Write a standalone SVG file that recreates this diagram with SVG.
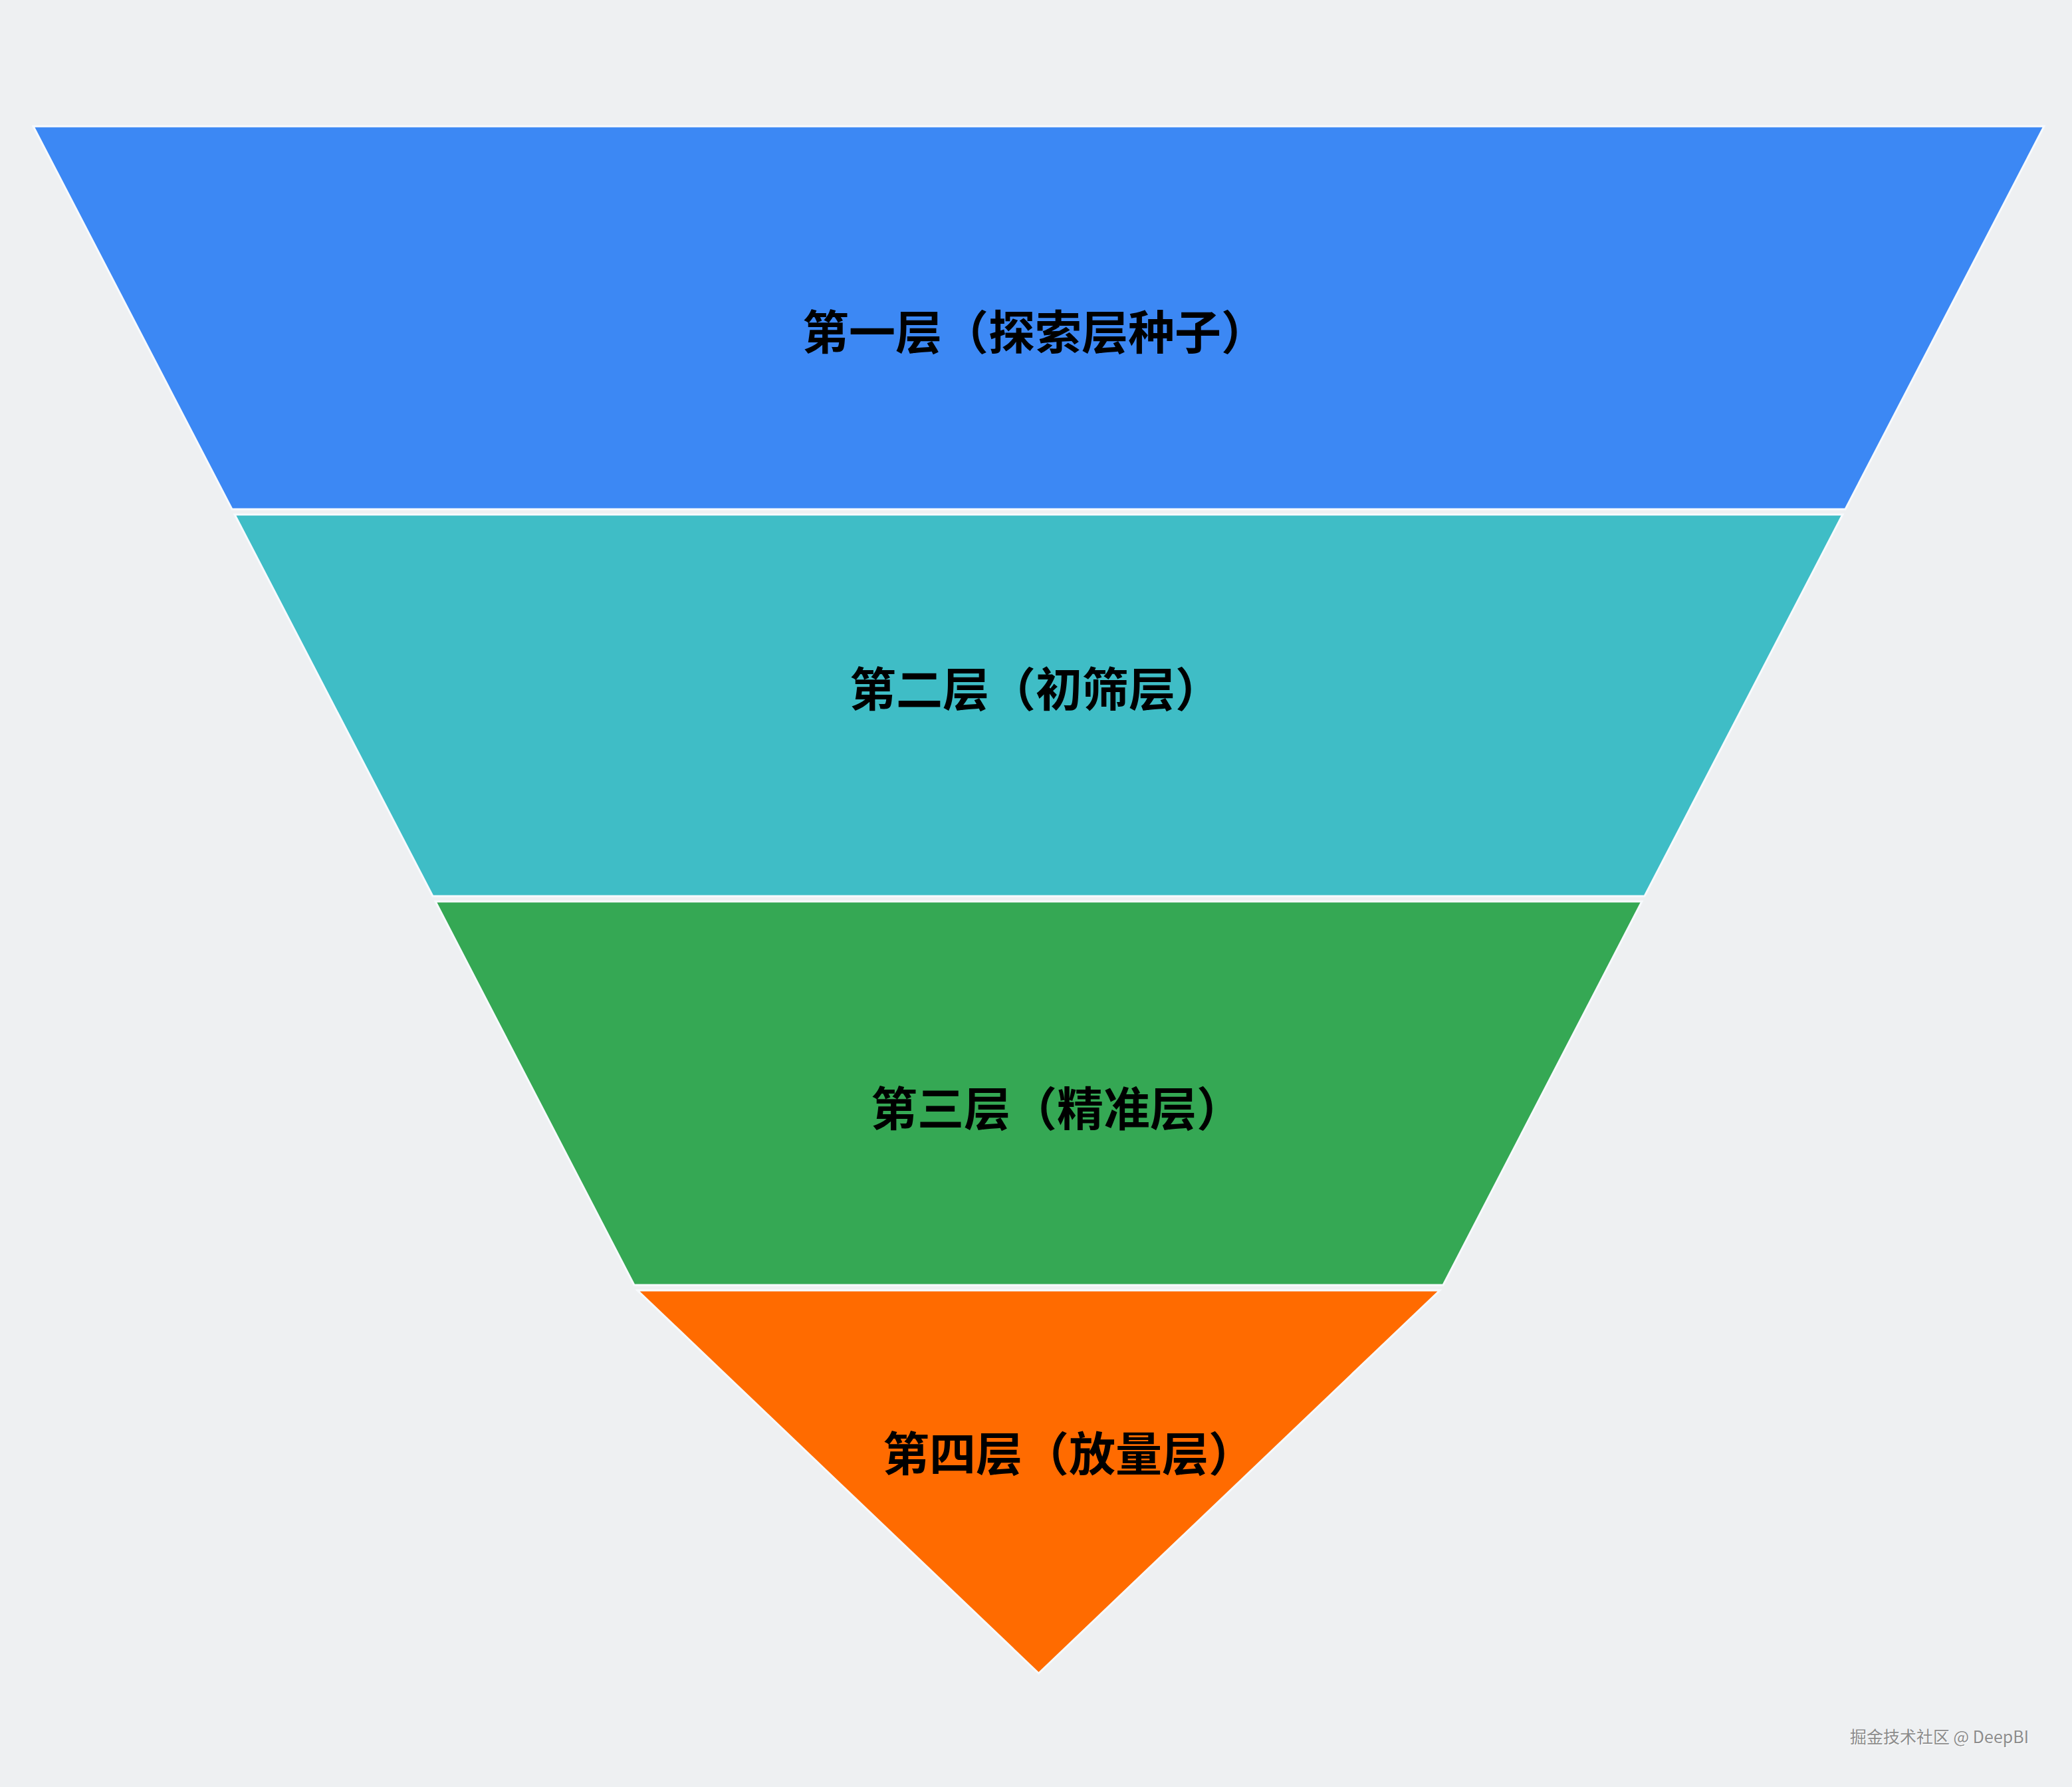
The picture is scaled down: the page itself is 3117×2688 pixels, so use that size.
<svg xmlns="http://www.w3.org/2000/svg" width="3117" height="2688" viewBox="0 0 3117 2688">
<style>
.band{stroke:#f7fafd;stroke-width:3;stroke-linejoin:miter}
.lbl{font-family:"Noto Sans CJK SC","Noto Sans",sans-serif;font-weight:bold;font-size:70px;fill:#000}
.wm{font-family:"Noto Sans CJK SC","Noto Sans",sans-serif;font-size:25px;fill:#8c8c8c}
</style>
<rect width="3117" height="2688" fill="#eef0f2"/>
<g id="layer1">
<polygon class="band" fill="#3c88f4" points="50,190 3075,190 2776,766 349,766"/>
<text class="lbl" x="1207" y="526">第一层（探索层种子）</text>
</g>
<g id="layer2">
<polygon class="band" fill="#3fbdc6" points="353,774 2772,774 2474,1348 651,1348"/>
<text class="lbl" x="1278" y="1063">第二层（初筛层）</text>
</g>
<g id="layer3">
<polygon class="band" fill="#35a854" points="655,1356 2470,1356 2171,1933 954,1933"/>
<text class="lbl" x="1310" y="1694">第三层（精准层）</text>
</g>
<g id="layer4">
<polygon class="band" fill="#ff6b00" points="959,1941 2166,1941 1562.5,2517"/>
<text class="lbl" x="1328" y="2213">第四层（放量层）</text>
</g>
<g id="connectors"></g>
<text class="wm" x="2783" y="2622" style="fill:#ffffff" dx="1" dy="1">掘金技术社区 @ DeepBI</text>
<text class="wm" x="2783" y="2622">掘金技术社区 @ DeepBI</text>
</svg>
